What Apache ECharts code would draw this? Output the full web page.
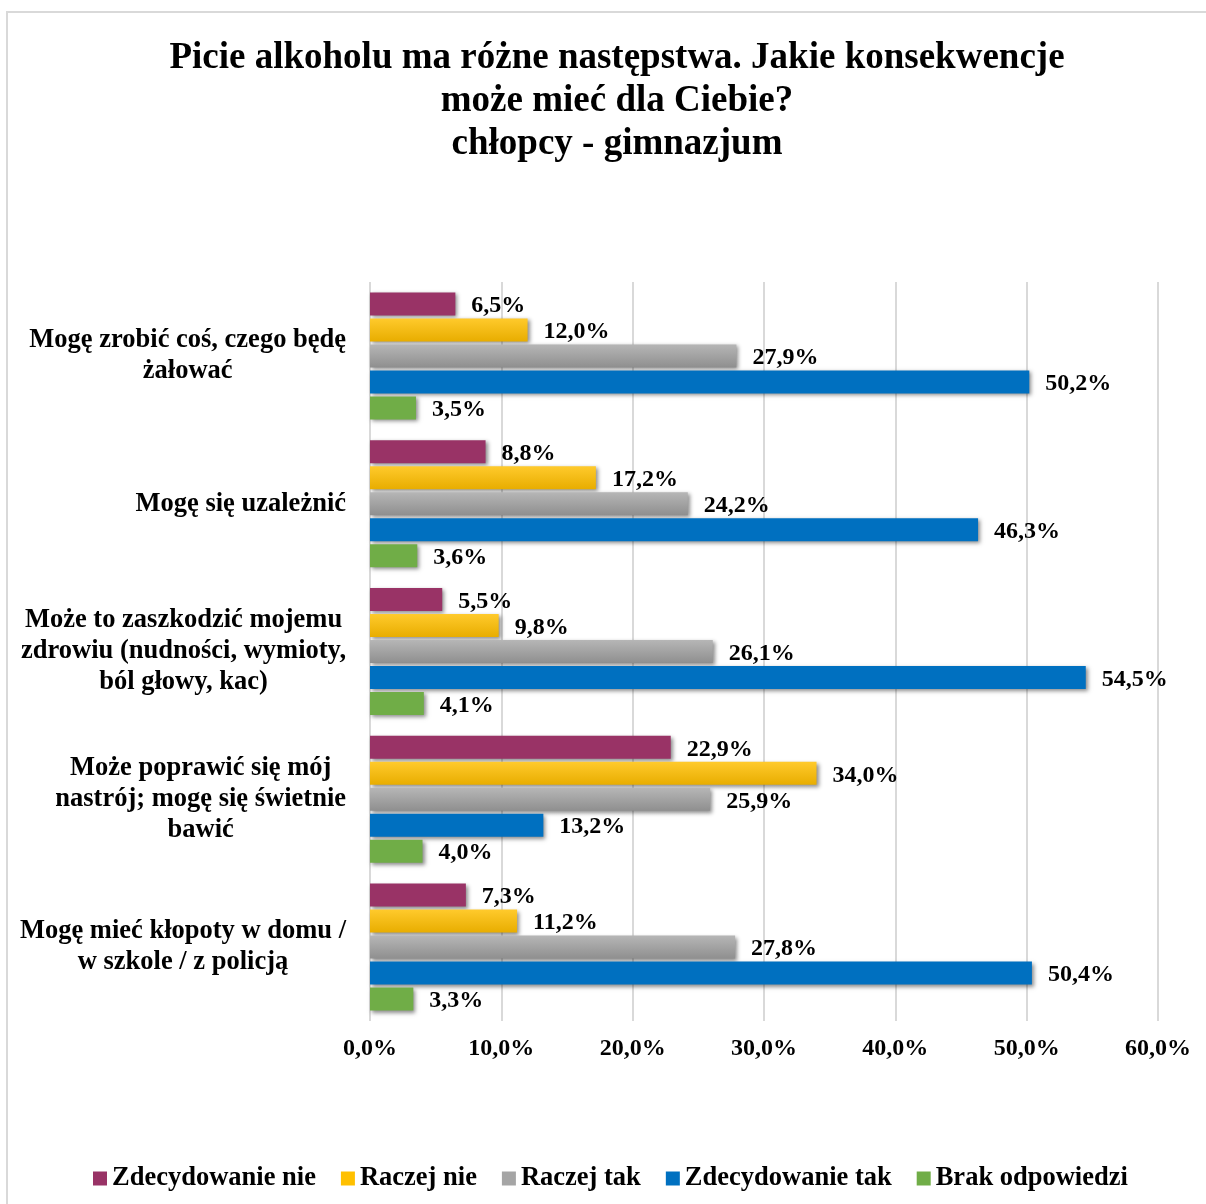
<!DOCTYPE html>
<html>
<head>
<meta charset="utf-8">
<script src="https://cdn.jsdelivr.net/npm/echarts@6/dist/echarts.min.js"></script>
<style>
  html, body { margin: 0; padding: 0; background: #fff; }
  #main { width: 1206px; height: 1204px; }
</style>
</head>
<body>
<div id="main"></div>
<script>
// kategorie (od góry)
var categories = [
    'Mogę zrobić coś, czego będę\nżałować',
    'Mogę się uzależnić',
    'Może to zaszkodzić mojemu\nzdrowiu (nudności, wymioty,\nból głowy, kac)',
    'Może poprawić się mój\nnastrój; mogę się świetnie\nbawić',
    'Mogę mieć kłopoty w domu /\nw szkole / z policją'
];
var seriesNames = ['Zdecydowanie nie', 'Raczej nie', 'Raczej tak', 'Zdecydowanie tak', 'Brak odpowiedzi'];
var zdecydowanieNie = [6.5, 8.8, 5.5, 22.9, 7.3];
var raczejNie = [12.0, 17.2, 9.8, 34.0, 11.2];
var raczejTak = [27.9, 24.2, 26.1, 25.9, 27.8];
var zdecydowanieTak = [50.2, 46.3, 54.5, 13.2, 50.4];
var brakOdpowiedzi = [3.5, 3.6, 4.1, 4.0, 3.3];
var xTicks = [0, 10, 20, 30, 40, 50, 60];

var serif = '"Liberation Serif", "Times New Roman", serif';
var colors = [
    '#993366',
    new echarts.graphic.LinearGradient(0, 0, 0, 1, [{offset: 0, color: '#FFCA2C'}, {offset: 1, color: '#E8AD00'}]),
    new echarts.graphic.LinearGradient(0, 0, 0, 1, [{offset: 0, color: '#B6B6B6'}, {offset: 1, color: '#8F8F8F'}]),
    '#0070C0',
    '#70AD47'
];
var legendColors = ['#993366', '#FFC000', '#A5A5A5', '#0070C0', '#70AD47'];
var allData = [zdecydowanieNie, raczejNie, raczejTak, zdecydowanieTak, brakOdpowiedzi];

function pct(v) {
    return v.toFixed(1).replace('.', ',') + '%';
}

var series = [];
for (var i = 0; i < seriesNames.length; i++) {
    series.push({
        name: seriesNames[i],
        type: 'bar',
        data: allData[i],
        barWidth: 23,
        barGap: '13%',
        itemStyle: {
            color: colors[i],
            shadowColor: 'rgba(0,0,0,0.45)',
            shadowBlur: 4,
            shadowOffsetX: 2,
            shadowOffsetY: 2
        },
        label: {
            show: true,
            position: 'right',
            distance: 16,
            offset: [0, 2],
            color: '#000',
            fontFamily: serif,
            fontWeight: 'bold',
            fontSize: 24,
            formatter: function (p) { return pct(p.value); }
        }
    });
}

var myChart = echarts.init(document.getElementById('main'));
myChart.setOption({
    backgroundColor: '#fff',
    animation: false,
    title: {
        text: 'Picie alkoholu ma różne następstwa. Jakie konsekwencje\nmoże mieć dla Ciebie?\nchłopcy - gimnazjum',
        left: 612,
        textAlign: 'center',
        top: 32,
        textStyle: {
            fontFamily: serif,
            fontWeight: 'bold',
            fontSize: 37,
            lineHeight: 43,
            color: '#000'
        }
    },
    graphic: [{
        type: 'rect',
        shape: {x: 7, y: 12, width: 1220, height: 1220},
        style: {fill: 'none', stroke: '#D9D9D9', lineWidth: 2},
        silent: true
    }],
    legend: {
        data: seriesNames.map(function (n, k) {
            return {name: n, itemStyle: {color: legendColors[k], shadowBlur: 0, shadowOffsetX: 0, shadowOffsetY: 0}};
        }),
        left: 88,
        top: 1160,
        icon: 'rect',
        itemWidth: 14,
        itemHeight: 14,
        itemGap: 25,
        textStyle: {
            fontFamily: serif,
            fontWeight: 'bold',
            fontSize: 26.5,
            color: '#000'
        }
    },
    grid: {
        left: 370,
        right: 48,
        top: 282,
        bottom: 183
    },
    xAxis: {
        type: 'value',
        min: 0,
        max: 60,
        interval: 10,
        axisLine: {show: false},
        axisTick: {show: false},
        splitLine: {lineStyle: {color: '#D9D9D9', width: 2}},
        axisLabel: {
            margin: 16,
            color: '#000',
            fontFamily: serif,
            fontWeight: 'bold',
            fontSize: 24,
            formatter: function (v) { return pct(v); }
        }
    },
    yAxis: {
        type: 'category',
        data: categories,
        inverse: true,
        axisLine: {show: false},
        axisTick: {show: false},
        axisLabel: {
            margin: 24,
            formatter: function (v) { return '{c|' + v.split('\n').join('}\n{c|') + '}'; },
            rich: {
                c: {
                    align: 'center',
                    color: '#000',
                    fontFamily: serif,
                    fontWeight: 'bold',
                    fontSize: 26.5,
                    lineHeight: 31
                }
            }
        }
    },
    series: series
});
</script>
</body>
</html>
